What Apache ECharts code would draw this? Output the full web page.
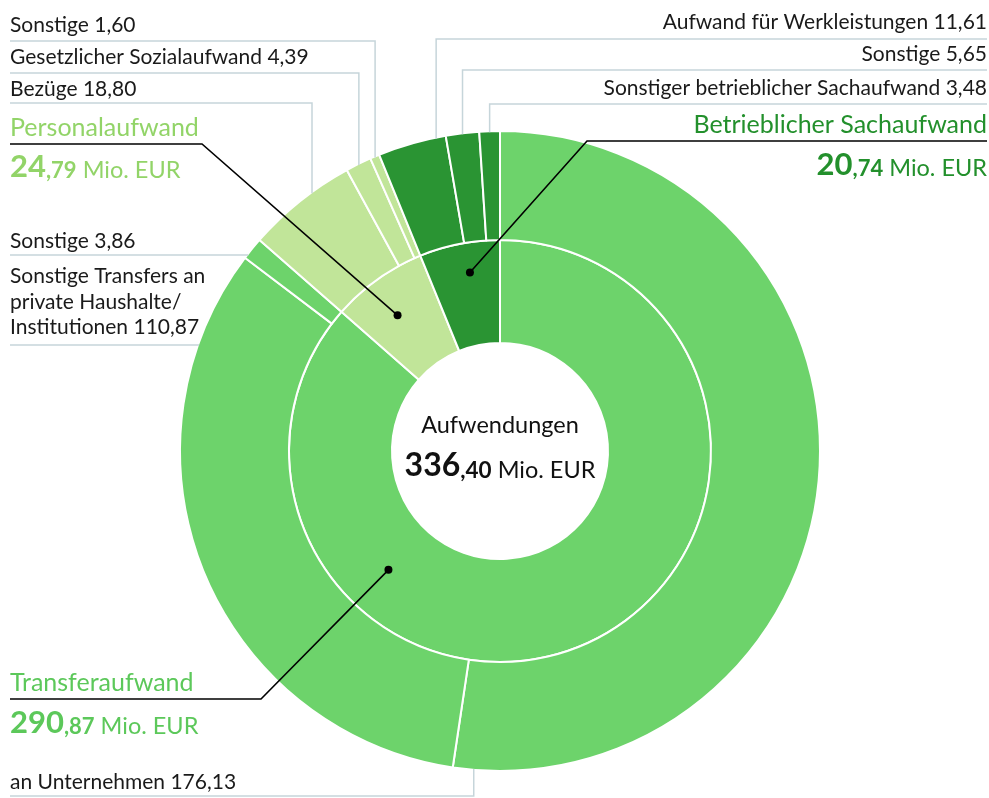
<!DOCTYPE html>
<html>
<head>
<meta charset="utf-8">
<title>Aufwendungen</title>
<script src="https://cdn.jsdelivr.net/npm/echarts@6/dist/echarts.min.js"></script>
<style>
  html, body { margin: 0; padding: 0; background: #fff; }
  #main { width: 989px; height: 798px; }
</style>
</head>
<body>
<div id="main"></div>
<script>
// data
const innerNames = ['Transferaufwand', 'Personalaufwand', 'Betrieblicher Sachaufwand'];
const innerValues = [290.87, 24.79, 20.74];
const outerNames = [
  'an Unternehmen',
  'Sonstige Transfers an\nprivate Haushalte/\nInstitutionen',
  'Sonstige',
  'Bezüge',
  'Gesetzlicher Sozialaufwand',
  'Sonstige',
  'Aufwand für Werkleistungen',
  'Sonstige',
  'Sonstiger betrieblicher Sachaufwand'
];
const outerValues = [176.13, 110.87, 3.86, 18.80, 4.39, 1.60, 11.61, 5.65, 3.48];
const outerGroup = [0, 0, 0, 1, 1, 1, 2, 2, 2];
const totalTitle = 'Aufwendungen';
const totalValue = 336.40;

const groupColors = ['#6dd36b', '#c1e599', '#2a9433'];
const groupTextColors = ['#5cc85a', '#92d468', '#23902c'];
const FONT = 'Lato, "Open Sans", sans-serif';

const cx = 500, cy = 451;
const innerR = [108, 211], outerR = [211, 320];

function fmt(v) {
  return v.toFixed(2).replace('.', ',');
}
// angle in degrees, clockwise from top, at fraction t of slice i
function sliceAngle(values, i, t) {
  const sum = values.reduce((a, b) => a + b, 0);
  let start = 0;
  for (let k = 0; k < i; k++) start += values[k];
  return (start + values[i] * t) / sum * 360;
}
function polar(deg, r) {
  const a = deg * Math.PI / 180;
  return [cx + r * Math.sin(a), cy - r * Math.cos(a)];
}

// label placement (layout only)
const outerLabels = [
  { i: 0, mode: 'v', t: 0.98, side: 'left', textY: 782, lineY: 796 },
  { i: 1, mode: 'h', side: 'left', textY: 302, lineY: 345 },
  { i: 2, mode: 'h', side: 'left', textY: 241, lineY: 255 },
  { i: 3, mode: 'v', t: 0.627, side: 'left', textY: 89, lineY: 103 },
  { i: 4, mode: 'v', t: 0.5, side: 'left', textY: 57, lineY: 73 },
  { i: 5, mode: 'v', t: 0.5, side: 'left', textY: 25, lineY: 41 },
  { i: 6, mode: 'v', t: 0.857, side: 'right', textY: 22, lineY: 39 },
  { i: 7, mode: 'v', t: 0.5, side: 'right', textY: 54, lineY: 70 },
  { i: 8, mode: 'v', t: 0.5, side: 'right', textY: 88, lineY: 104 }
];
const innerLabels = [
  { i: 0, t: 0.717, r: 163, side: 'left', textY: 683, valueY: 721, elbow: [261, 699] },
  { i: 1, t: 0.44, r: 170, side: 'left', textY: 128, valueY: 165, elbow: [202, 144] },
  { i: 2, t: 0.569, r: 181, side: 'right', textY: 125, valueY: 163, elbow: [587, 141] }
];

const graphics = [];

outerLabels.forEach(l => {
  const x0 = l.side === 'left' ? 10 : 987;
  let pts;
  if (l.mode === 'v') {
    const p = polar(sliceAngle(outerValues, l.i, l.t), outerR[1] - 1);
    pts = [[x0, l.lineY], [p[0], l.lineY], p];
  } else {
    const ax = cx - Math.sqrt(Math.pow(outerR[1] - 1, 2) - Math.pow(l.lineY - cy, 2));
    pts = [[x0, l.lineY], [ax, l.lineY]];
  }
  graphics.push({
    type: 'polyline', z: 50, silent: true,
    shape: { points: pts },
    style: { stroke: '#c6d5da', lineWidth: 1.5, fill: null }
  });
  graphics.push({
    type: 'text', z: 60, silent: true, x: x0, y: l.textY,
    style: {
      text: outerNames[l.i] + ' ' + fmt(outerValues[l.i]),
      font: '21px ' + FONT, fill: '#1a1a1a', lineHeight: 25.5,
      align: l.side, verticalAlign: 'middle'
    }
  });
});

innerLabels.forEach(l => {
  const x0 = l.side === 'left' ? 10 : 987;
  const p = polar(sliceAngle(innerValues, l.i, l.t), l.r);
  const color = groupTextColors[l.i];
  const parts = fmt(innerValues[l.i]).split(',');
  graphics.push({
    type: 'polyline', z: 70, silent: true,
    shape: { points: [[x0, l.elbow[1]], l.elbow, p] },
    style: { stroke: '#000', lineWidth: 1.6, fill: null }
  });
  graphics.push({
    type: 'circle', z: 71, silent: true,
    shape: { cx: p[0], cy: p[1], r: 4 },
    style: { fill: '#000' }
  });
  graphics.push({
    type: 'text', z: 72, silent: true, x: x0, y: l.textY,
    style: {
      text: innerNames[l.i], font: '25px ' + FONT, fill: color,
      align: l.side, verticalAlign: 'middle'
    }
  });
  graphics.push({
    type: 'text', z: 72, silent: true, x: x0, y: l.valueY,
    style: {
      text: '{a|' + parts[0] + '}{b|,' + parts[1] + '}{c| Mio. EUR}',
      align: l.side, verticalAlign: 'middle',
      rich: {
        a: { fontSize: 31, fontWeight: 'bold', fontFamily: FONT, fill: color, lineHeight: 34, verticalAlign: 'bottom' },
        b: { fontSize: 22, fontWeight: 'bold', fontFamily: FONT, fill: color, lineHeight: 34, verticalAlign: 'bottom' },
        c: { fontSize: 23.5, fontFamily: FONT, fill: color, lineHeight: 34, verticalAlign: 'bottom' }
      }
    }
  });
});

// center total
const totalParts = fmt(totalValue).split(',');
graphics.push({
  type: 'text', z: 72, silent: true, x: cx, y: 425,
  style: { text: totalTitle, font: '23.5px ' + FONT, fill: '#111', align: 'center', verticalAlign: 'middle' }
});
graphics.push({
  type: 'text', z: 72, silent: true, x: cx, y: 464,
  style: {
    text: '{a|' + totalParts[0] + '}{b|,' + totalParts[1] + '}{c| Mio. EUR}',
    align: 'center', verticalAlign: 'middle',
    rich: {
      a: { fontSize: 32, fontWeight: 'bold', fontFamily: FONT, fill: '#111', lineHeight: 36, verticalAlign: 'bottom' },
      b: { fontSize: 22.5, fontWeight: 'bold', fontFamily: FONT, fill: '#111', lineHeight: 36, verticalAlign: 'bottom' },
      c: { fontSize: 23.5, fontFamily: FONT, fill: '#111', lineHeight: 36, verticalAlign: 'bottom' }
    }
  }
});

const option = {
  animation: false,
  backgroundColor: '#fff',
  graphic: { elements: graphics },
  series: [
    {
      type: 'pie',
      name: 'Aufwendungen',
      center: [cx, cy],
      radius: innerR,
      startAngle: 90,
      clockwise: true,
      silent: true,
      avoidLabelOverlap: false,
      label: { show: false },
      labelLine: { show: false },
      itemStyle: { borderColor: '#fff', borderWidth: 2 },
      data: innerNames.map((n, i) => ({
        name: n, value: innerValues[i], itemStyle: { color: groupColors[i] }
      }))
    },
    {
      type: 'pie',
      name: 'Details',
      center: [cx, cy],
      radius: outerR,
      startAngle: 90,
      clockwise: true,
      silent: true,
      avoidLabelOverlap: false,
      label: { show: false },
      labelLine: { show: false },
      itemStyle: { borderColor: '#fff', borderWidth: 2 },
      data: outerNames.map((n, i) => ({
        name: n, value: outerValues[i], itemStyle: { color: groupColors[outerGroup[i]] }
      }))
    }
  ]
};

const myChart = echarts.init(document.getElementById('main'));
myChart.setOption(option);
</script>
</body>
</html>
